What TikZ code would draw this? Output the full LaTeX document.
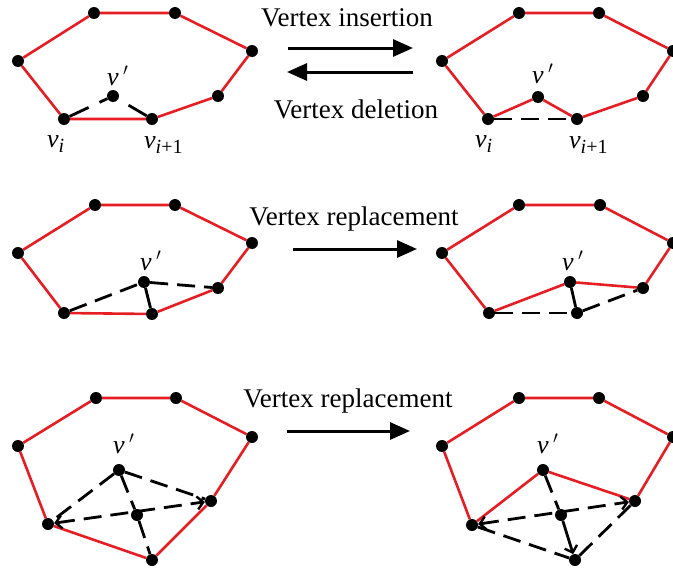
\documentclass[tikz,border=0pt]{standalone}
\usepackage{fontspec}
\setmainfont{Liberation Serif}
\usetikzlibrary{arrows.meta}
\definecolor{pred}{RGB}{230,30,36}
\pgfdeclarelayer{bg}
\pgfsetlayers{bg,main}
\begin{document}
\begin{tikzpicture}[x=1pt,y=-1pt,
 dot/.style={circle,fill=black,inner sep=0pt,minimum size=12pt},
 redl/.style={draw=pred,line width=2.6pt,line join=round},
 blk/.style={draw=black,line width=2.8pt},
 dsh/.style={draw=black,line width=2.8pt,dash pattern=on 18pt off 9pt},
 barb/.style={-{Straight Barb[length=6pt,width=13pt,line width=2.4pt]}},
 dbarb/.style={{Straight Barb[length=6pt,width=13pt,line width=2.4pt]}-{Straight Barb[length=6pt,width=13pt,line width=2.4pt]}},
 bigarrow/.style={line width=3pt,-{Triangle[length=20pt,width=17pt]}},
 ttl/.style={font=\fontsize{27}{30}\selectfont,anchor=base,inner sep=0pt},
 vlab/.style={font=\fontsize{26}{28}\selectfont\itshape,anchor=base west,inner sep=0pt}]
\useasboundingbox (0,0) rectangle (673,570);

% ---------- Panel 1 ----------
\node[dot] (a1) at (18,61) {};
\node[dot] (b1) at (94,13) {};
\node[dot] (c1) at (175,13) {};
\node[dot] (d1) at (252,51) {};
\node[dot] (e1) at (218,96) {};
\node[dot] (f1) at (152,119) {};
\node[dot] (g1) at (64,119) {};
\node[dot] (v1) at (113,96) {};
\begin{pgfonlayer}{bg}
\draw[redl] (a1) -- (b1) -- (c1) -- (d1) -- (e1) -- (f1) -- (g1) -- (a1);
\draw[draw=black,line width=2.8pt,dash pattern=on 21pt off 12pt] (g1) -- (v1);
\draw[draw=black,line width=2.8pt,dash pattern=on 21pt off 12pt] (f1) -- (v1);
\end{pgfonlayer}
\node[vlab] (lv1) at (107,85) {v\,$'$};
\node[vlab] (li1) at (47,147) {v\raisebox{-0.2em}{\fontsize{20}{20}\selectfont i}};
\node[vlab] (lj1) at (144,148) {v\raisebox{-0.2em}{\fontsize{20}{20}\selectfont i\upshape +1}};

% ---------- Panel 2 ----------
\node[dot] (a2) at (442,61) {};
\node[dot] (b2) at (519,13) {};
\node[dot] (c2) at (599,13) {};
\node[dot] (d2) at (673,51) {};
\node[dot] (e2) at (643,96) {};
\node[dot] (f2) at (577,119) {};
\node[dot] (g2) at (488,119) {};
\node[dot] (v2) at (538,97) {};
\begin{pgfonlayer}{bg}
\draw[redl] (a2) -- (b2) -- (c2) -- (d2) -- (e2) -- (f2) -- (v2) -- (g2) -- (a2);
\draw[dsh] (g2) -- (f2);
\end{pgfonlayer}
\node[vlab] (lv2) at (532,83) {v\,$'$};
\node[vlab] (li2) at (475,147) {v\raisebox{-0.2em}{\fontsize{20}{20}\selectfont i}};
\node[vlab] (lj2) at (569,148) {v\raisebox{-0.2em}{\fontsize{20}{20}\selectfont i\upshape +1}};

% ---------- Panel 3 ----------
\node[dot] (a3) at (18,253) {};
\node[dot] (b3) at (95,205) {};
\node[dot] (c3) at (175,205) {};
\node[dot] (d3) at (252,243) {};
\node[dot] (e3) at (218,288) {};
\node[dot] (f3) at (152,314) {};
\node[dot] (g3) at (64,313) {};
\node[dot] (v3) at (144,282) {};
\begin{pgfonlayer}{bg}
\draw[redl] (a3) -- (b3) -- (c3) -- (d3) -- (e3) -- (f3) -- (g3) -- (a3);
\draw[dsh] (g3) -- (v3);
\draw[dsh] (v3) -- (e3);
\draw[blk] (v3) -- (f3);
\end{pgfonlayer}
\node[vlab] (lv3) at (140,270) {v\,$'$};

% ---------- Panel 4 ----------
\node[dot] (a4) at (442,253) {};
\node[dot] (b4) at (519,205) {};
\node[dot] (c4) at (600,205) {};
\node[dot] (d4) at (673,243) {};
\node[dot] (e4) at (643,288) {};
\node[dot] (f4) at (577,313) {};
\node[dot] (g4) at (489,313) {};
\node[dot] (v4) at (570,282) {};
\begin{pgfonlayer}{bg}
\draw[redl] (a4) -- (b4) -- (c4) -- (d4) -- (e4) -- (v4) -- (g4) -- (a4);
\draw[blk] (v4) -- (f4);
\draw[dsh] (g4) -- (f4);
\draw[dsh] (f4) -- (e4);
\end{pgfonlayer}
\node[vlab] (lv4) at (562,270) {v\,$'$};

% ---------- Panel 5 ----------
\node[dot] (a5) at (18,446) {};
\node[dot] (b5) at (96,398) {};
\node[dot] (c5) at (176,398) {};
\node[dot] (d5) at (252,437) {};
\node[dot] (e5) at (211,501) {};
\node[dot] (f5) at (152,560) {};
\node[dot] (g5) at (48,524) {};
\node[dot] (v5) at (119,470) {};
\node[dot] (x5) at (137,515) {};
\begin{pgfonlayer}{bg}
\draw[redl] (a5) -- (b5) -- (c5) -- (d5) -- (e5) -- (f5) -- (g5) -- (a5);
\draw[dsh] (v5) -- (g5);
\draw[dsh] (v5) -- (e5);
\draw[dsh,dbarb] (g5) -- (e5);
\draw[dsh] (v5) -- (x5);
\draw[dsh] (x5) -- (f5);
\end{pgfonlayer}
\node[vlab] (lv5) at (113,453) {v\,$'$};

% ---------- Panel 6 ----------
\node[dot] (a6) at (442,446) {};
\node[dot] (b6) at (519,398) {};
\node[dot] (c6) at (599,398) {};
\node[dot] (d6) at (673,437) {};
\node[dot] (e6) at (635,501) {};
\node[dot] (f6) at (575,560) {};
\node[dot] (g6) at (472,525) {};
\node[dot] (v6) at (543,470) {};
\node[dot] (x6) at (561,515) {};
\begin{pgfonlayer}{bg}
\draw[redl] (a6) -- (b6) -- (c6) -- (d6) -- (e6) -- (v6) -- (g6) -- (a6);
\draw[dsh,dbarb] (g6) -- (e6);
\draw[dsh] (g6) -- (f6);
\draw[dsh] (f6) -- (e6);
\draw[dsh] (v6) -- (x6);
\draw[blk,barb] (x6) -- (f6);
\end{pgfonlayer}
\node[vlab] (lv6) at (537,453) {v\,$'$};

% ---------- Titles and arrows ----------
\node[ttl] (tins) at (347,27) {Vertex insertion};
\node[ttl] (tdel) at (356,118) {Vertex deletion};
\node[ttl] (trep1) at (354,225) {Vertex replacement};
\node[ttl] (trep2) at (348,407) {Vertex replacement};

\coordinate (p1s) at (288,48);  \coordinate (p1e) at (413,48);
\coordinate (p2s) at (413,72);  \coordinate (p2e) at (287,72);
\coordinate (p3s) at (293,249); \coordinate (p3e) at (417,249);
\coordinate (p4s) at (287,431); \coordinate (p4e) at (410,431);
\draw[bigarrow] (p1s) -- (p1e);
\draw[bigarrow] (p2s) -- (p2e);
\draw[bigarrow] (p3s) -- (p3e);
\draw[bigarrow] (p4s) -- (p4e);
\end{tikzpicture}
\end{document}
